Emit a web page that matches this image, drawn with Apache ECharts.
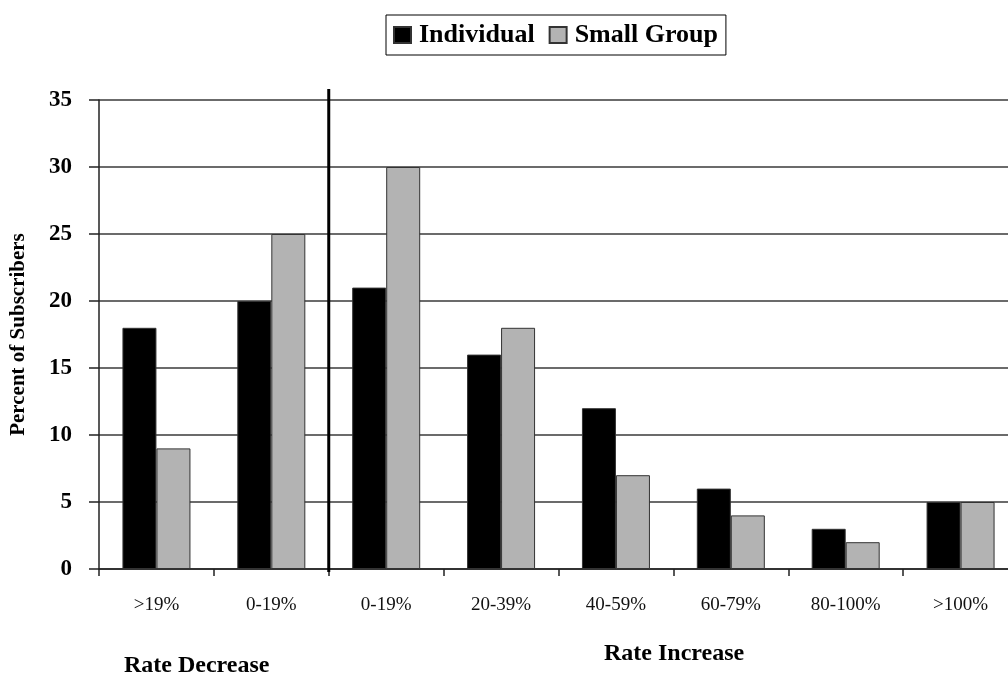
<!DOCTYPE html>
<html>
<head>
<meta charset="utf-8">
<script src="https://cdn.jsdelivr.net/npm/echarts@6/dist/echarts.min.js"></script>
<style>
html,body{margin:0;padding:0;background:#fff;}
#chart{width:1008px;height:678px;}
</style>
</head>
<body>
<div id="chart"></div>
<script>
// ---- data ----
const categories = ['>19%', '0-19%', '0-19%', '20-39%', '40-59%', '60-79%', '80-100%', '>100%'];
const individual = [18, 20, 21, 16, 12, 6, 3, 5];
const smallGroup = [9, 25, 30, 18, 7, 4, 2, 5];
const yTicks = { min: 0, max: 35, interval: 5 };
const dividerAfterIndex = 1; // divider between "Rate Decrease" and "Rate Increase" groups
const groupLabels = ['Rate Decrease', 'Rate Increase'];
const yTitle = 'Percent of Subscribers';
const seriesNames = ['Individual', 'Small Group'];

const serif = 'Liberation Serif, Times New Roman, serif';
const chart = echarts.init(document.getElementById('chart'), null, { renderer: 'canvas' });

chart.setOption({
  backgroundColor: '#ffffff',
  animation: false,
  title: [
    { text: groupLabels[0], left: 124, top: 654,
      textStyle: { fontFamily: serif, fontWeight: 'bold', fontSize: 24, color: '#000' }, padding: 0 },
    { text: groupLabels[1], left: 604, top: 642,
      textStyle: { fontFamily: serif, fontWeight: 'bold', fontSize: 24, color: '#000' }, padding: 0 }
  ],
  legend: {
    data: seriesNames,
    left: 386, top: 15,
    orient: 'horizontal',
    itemWidth: 17, itemHeight: 16, itemGap: 14,
    padding: [7, 8, 7, 7],
    borderColor: '#000', borderWidth: 1,
    backgroundColor: '#fff',
    textStyle: { fontFamily: serif, fontWeight: 'bold', fontSize: 26, color: '#000', padding: [0, 0, 0, 3] },
    icon: 'rect'
  },
  grid: { left: 99, top: 100, bottom: 109, right: -10, containLabel: false, outerBoundsMode: 'none' },
  xAxis: {
    type: 'category',
    data: categories,
    boundaryGap: true,
    axisLine: { show: true, lineStyle: { color: '#222', width: 1.5 } },
    axisTick: { show: true, inside: false, length: 7, alignWithLabel: false, interval: 0, lineStyle: { color: '#222', width: 1.5 } },
    axisLabel: { interval: 0, margin: 27, fontFamily: serif, fontSize: 19, color: '#111' },
    splitLine: { show: false }
  },
  yAxis: {
    type: 'value',
    min: yTicks.min, max: yTicks.max, interval: yTicks.interval,
    name: yTitle,
    nameLocation: 'middle',
    nameRotate: 90,
    nameGap: 70,
    nameTextStyle: { fontFamily: serif, fontWeight: 'bold', fontSize: 21, color: '#000' },
    axisLine: { show: true, lineStyle: { color: '#222', width: 1.5 } },
    axisTick: { show: true, inside: false, length: 10, lineStyle: { color: '#222', width: 1.5 } },
    axisLabel: { margin: 27, fontFamily: serif, fontWeight: 'bold', fontSize: 23, color: '#000' },
    splitLine: { show: true, lineStyle: { color: '#3a3a3a', width: 1.5 } }
  },
  series: [
    {
      name: seriesNames[0], type: 'bar', data: individual,
      barWidth: 34, barGap: '0%',
      itemStyle: { color: '#000000', borderColor: '#333', borderWidth: 1 }
    },
    {
      name: seriesNames[1], type: 'bar', data: smallGroup,
      barWidth: 34, barGap: '0%',
      itemStyle: { color: '#b3b3b3', borderColor: '#333', borderWidth: 1 }
    },
    {
      type: 'custom',
      name: 'divider',
      clip: false,
      z: 10,
      silent: true,
      data: [[dividerAfterIndex, yTicks.max]],
      renderItem: function (params, api) {
        const bottom = api.coord([api.value(0), 0]);
        const top = api.coord([api.value(0), api.value(1)]);
        const w = api.size([1, 0])[0];
        const x = bottom[0] + w / 2;
        return {
          type: 'line',
          shape: { x1: x, y1: top[1] - 11, x2: x, y2: bottom[1] + 3 },
          style: { stroke: '#000', lineWidth: 3 }
        };
      }
    }
  ]
});
</script>
</body>
</html>
